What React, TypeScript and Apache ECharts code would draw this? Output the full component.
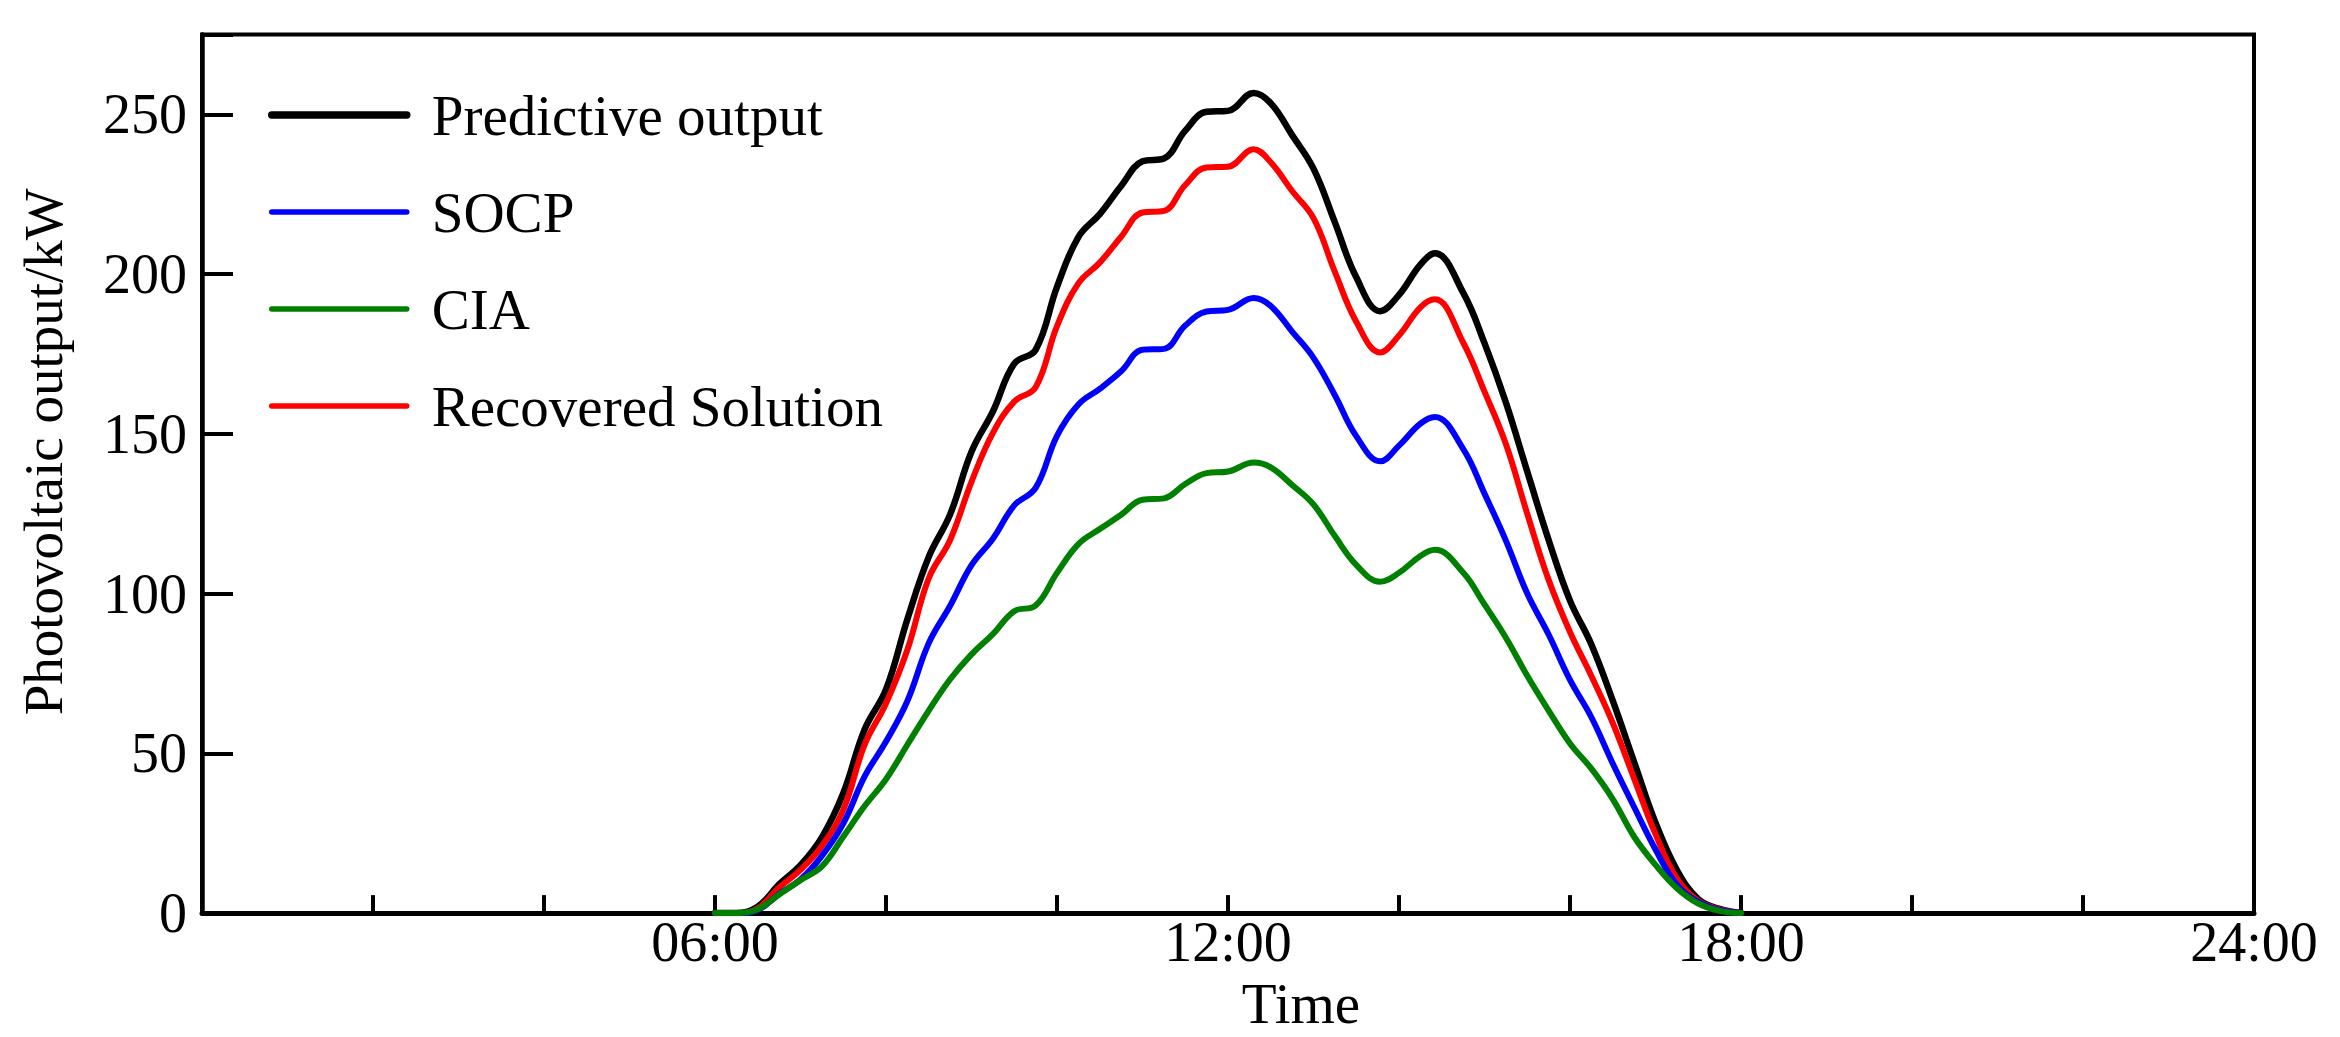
import React, { useEffect, useRef } from "react";
import * as echarts from "echarts";

const FONT = "'Liberation Serif', 'Times New Roman', Times, serif";

// Time of day in hours (15-minute steps, with the turning points of the curves)
const hours = [
  6, 6.25, 6.5, 6.75, 7, 7.25, 7.5, 7.75, 8, 8.25, 8.5, 8.75, 9, 9.25, 9.5, 9.75,
  10, 10.25, 10.5, 10.75, 11, 11.25, 11.5, 11.75, 12, 12.3, 12.5, 12.75, 13, 13.25,
  13.5, 13.78, 14, 14.25, 14.42, 14.75, 15, 15.25, 15.5, 15.75, 16, 16.25, 16.5, 16.75,
  17, 17.25, 17.5, 17.75, 18,
];

const predictive = [
  0, 0, 2, 9, 15, 23.7, 37.5, 57.5, 70, 92, 111.5, 124.8, 144.4, 157, 172, 176.3,
  196, 211.6, 218.8, 227.6, 235.3, 236.2, 244.9, 250.8, 251.1, 256.7, 253.5, 243.5, 233, 216.2,
  199, 188.4, 193.5, 203, 206.5, 194.2, 178.4, 159.8, 138.2, 116.8, 97.8, 84.1, 66.5, 47.3,
  28.3, 13.5, 4.4, 1.3, 0,
];

const socp = [
  0, 0, 1, 6, 10.5, 17.9, 28, 42.8, 53.7, 66.4, 84.5, 96.2, 108.9, 117.2, 127.6, 133.1,
  149.4, 159.2, 164.1, 169.6, 176.3, 176.6, 183.9, 188.3, 188.8, 192.5, 190, 182, 173.8, 162.1,
  149.3, 141.4, 146.3, 153.2, 155.3, 145.3, 131.3, 116.6, 100, 87.2, 73, 61.3, 46.8, 33.2,
  19.9, 8.9, 3.5, 1, 0,
];

const cia = [
  0, 0, 1.2, 5.8, 10.3, 14.6, 23.9, 33.5, 41.9, 52.7, 63.4, 73.2, 81, 87.3, 94.5, 96.3,
  106.5, 115.5, 120.2, 124.7, 129.4, 129.8, 134.3, 137.7, 138.2, 141, 139.5, 134, 127.9, 118,
  109, 103.7, 106.5, 111.8, 113.7, 106.6, 96.6, 86.2, 74.3, 63.4, 53.1, 45.2, 35.7, 23.9,
  15.1, 7.8, 3, 0.7, 0,
];

const recovered = [
  0, 0, 1.5, 8, 13.5, 21, 32.3, 52.7, 65.6, 82.4, 104.8, 116.8, 135, 150.3, 160.1, 164.6,
  183.7, 197.1, 203.6, 211.7, 219.3, 219.8, 227.9, 233.4, 233.6, 239.1, 235, 226, 217.5, 200.7,
  185.1, 175.5, 180.8, 189.6, 192.1, 178.6, 163.2, 146.8, 125, 104.3, 88, 74.2, 59.5, 42.1,
  24.7, 10.9, 3.8, 1.2, 0,
];

const xLabelHours = [6, 12, 18, 24];
const yLabelValues = [0, 50, 100, 150, 200, 250];

const legendNames = ["Predictive output", "SOCP", "CIA", "Recovered Solution"];

function pairs(vals: number[]) {
  return hours.map((h, i) => [h, vals[i]]);
}

function makeSeries(name: string, vals: number[], color: string, width: number) {
  return {
    name,
    type: "line",
    data: pairs(vals),
    smooth: 0.4,
    symbol: "none",
    showSymbol: false,
    color,
    lineStyle: { color, width, cap: "round", join: "round" },
    emphasis: { disabled: true },
  };
}

export default function App() {
  const ref = useRef<HTMLDivElement>(null);

  useEffect(() => {
    document.body.style.margin = "0";
    const chart = echarts.init(ref.current as HTMLDivElement, null, { renderer: "svg" });
    const option = {
      animation: false,
      backgroundColor: "#ffffff",
      grid: {
        left: 202,
        right: 86,
        top: 34.5,
        bottom: 117,
        show: true,
        borderColor: "#000",
        borderWidth: 4,
        backgroundColor: "transparent",
      },
      legend: {
        orient: "vertical",
        left: 268,
        top: 85,
        padding: 0,
        itemWidth: 135,
        itemHeight: 20,
        itemGap: 37,
        itemStyle: { opacity: 0 },
        textStyle: {
          fontFamily: FONT,
          fontSize: 57,
          color: "#000",
          lineHeight: 60,
          padding: [0, 0, 0, 20],
        },
        data: [
          { name: legendNames[0], lineStyle: { width: 7.5, cap: "round" } },
          { name: legendNames[1], lineStyle: { width: 5.5, cap: "round" } },
          { name: legendNames[2], lineStyle: { width: 5.5, cap: "round" } },
          { name: legendNames[3], lineStyle: { width: 5.5, cap: "round" } },
        ],
      },
      xAxis: {
        type: "value",
        min: 0,
        max: 24,
        interval: 2,
        name: "Time",
        nameLocation: "middle",
        nameGap: 53,
        nameTextStyle: {
          fontFamily: FONT,
          fontSize: 57,
          color: "#000",
          padding: [0, 0, 0, 146],
        },
        axisLine: { show: true, onZero: false, lineStyle: { color: "#000", width: 5 } },
        axisTick: { show: true, inside: true, length: 18, lineStyle: { color: "#000", width: 4 } },
        axisLabel: {
          margin: 1,
          fontFamily: FONT,
          fontSize: 56,
          color: "#000",
          formatter: (v: number) =>
            xLabelHours.indexOf(v) >= 0 ? (v < 10 ? "0" + v : String(v)) + ":00" : "",
        },
        splitLine: { show: false },
      },
      yAxis: {
        type: "value",
        min: 0,
        max: 275,
        interval: 50,
        name: "Photovoltaic output/kW",
        nameLocation: "middle",
        nameGap: 131,
        nameRotate: 90,
        nameTextStyle: {
          fontFamily: FONT,
          fontSize: 55,
          color: "#000",
          padding: [0, 0, 0, 44],
        },
        axisLine: { show: true, lineStyle: { color: "#000", width: 4.5 } },
        axisTick: { show: true, inside: true, length: 31, lineStyle: { color: "#000", width: 4 } },
        axisLabel: {
          margin: 15,
          fontFamily: FONT,
          fontSize: 56,
          color: "#000",
          padding: [10, 0, 0, 0],
          formatter: (v: number) => (yLabelValues.indexOf(v) >= 0 ? String(v) : ""),
        },
        splitLine: { show: false },
      },
      series: [
        makeSeries(legendNames[0], predictive, "#000000", 6.5),
        makeSeries(legendNames[3], recovered, "#ff0000", 6),
        makeSeries(legendNames[1], socp, "#0000ff", 6),
        makeSeries(legendNames[2], cia, "#008000", 6),
      ],
    };
    chart.setOption(option as any);
    return () => chart.dispose();
  }, []);

  return <div ref={ref} style={{ width: 2340, height: 1037 }} />;
}
